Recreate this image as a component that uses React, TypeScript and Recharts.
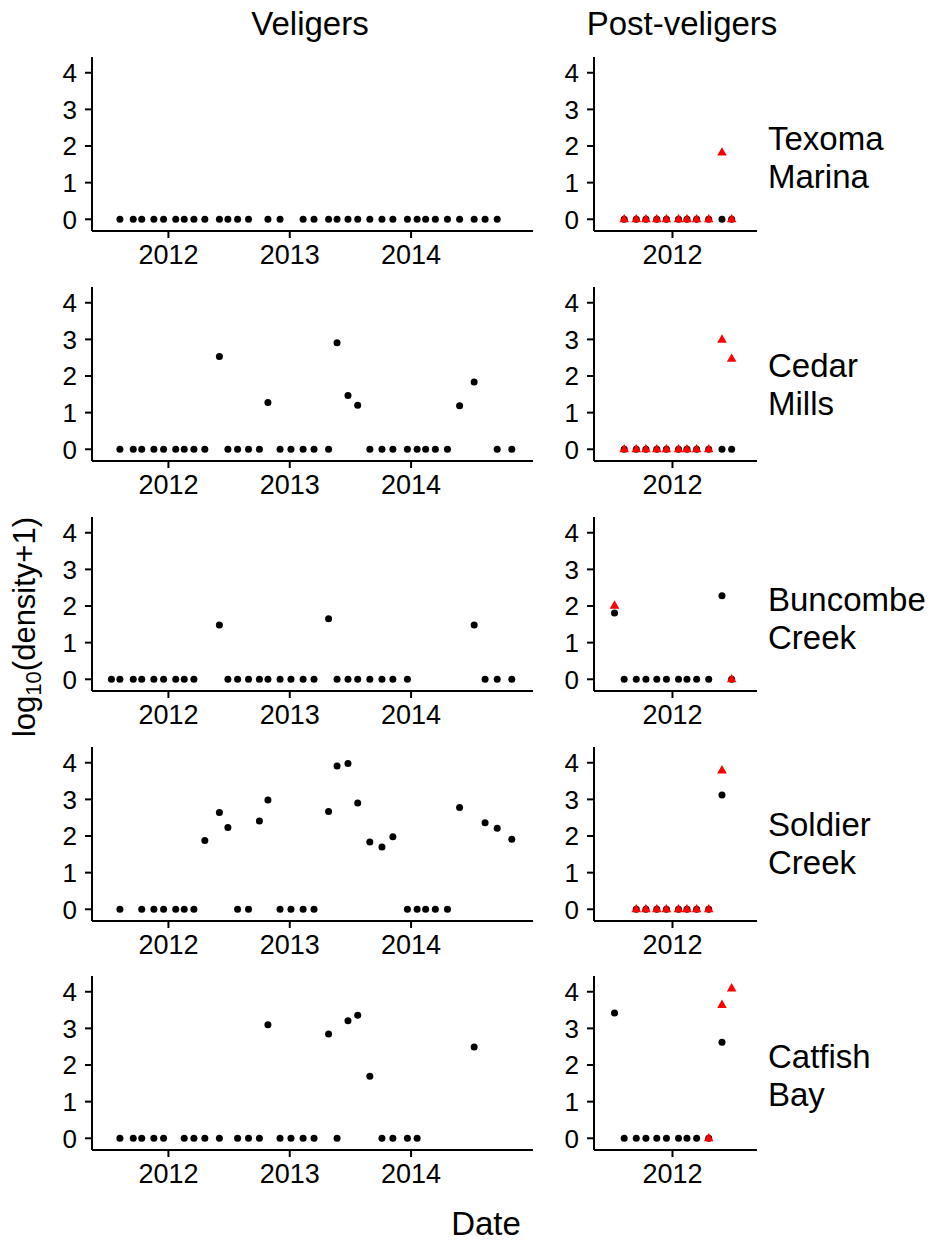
import React from "react";
import { Scatter, ScatterChart, XAxis, YAxis } from "recharts";

const FONT = "'Liberation Sans', Arial, Helvetica, sans-serif";

// panel rows (sites) and columns (life stage)
const stages = ["Veligers", "Post-veligers"];
const siteLabels = [
  ["Texoma", "Marina"],
  ["Cedar", "Mills"],
  ["Buncombe", "Creek"],
  ["Soldier", "Creek"],
  ["Catfish", "Bay"],
];

const yTicks = [0, 1, 2, 3, 4];
const velTicks = [2012, 2013, 2014];
const postTicks = [2012];

// ---- Veligers (decimal year, log10(density+1)) ----
const texomaVelDates = [2011.6, 2011.71, 2011.78, 2011.88, 2011.96, 2012.06, 2012.13, 2012.21, 2012.3, 2012.42, 2012.49, 2012.57, 2012.66, 2012.82, 2012.92, 2013.11, 2013.2, 2013.32, 2013.39, 2013.48, 2013.56, 2013.66, 2013.76, 2013.85, 2013.97, 2014.05, 2014.12, 2014.2, 2014.3, 2014.4, 2014.52, 2014.61, 2014.71];
const texomaVel = [0, 0, 0, 0, 0, 0, 0, 0, 0, 0, 0, 0, 0, 0, 0, 0, 0, 0, 0, 0, 0, 0, 0, 0, 0, 0, 0, 0, 0, 0, 0, 0, 0];

const cedarVelDates = [2011.6, 2011.71, 2011.78, 2011.88, 2011.96, 2012.06, 2012.13, 2012.21, 2012.3, 2012.42, 2012.49, 2012.57, 2012.66, 2012.75, 2012.82, 2012.92, 2013.01, 2013.11, 2013.2, 2013.32, 2013.39, 2013.48, 2013.56, 2013.66, 2013.76, 2013.85, 2013.97, 2014.05, 2014.12, 2014.2, 2014.3, 2014.4, 2014.52, 2014.71, 2014.83];
const cedarVel = [0, 0, 0, 0, 0, 0, 0, 0, 0, 2.53, 0, 0, 0, 0, 1.28, 0, 0, 0, 0, 0, 2.91, 1.47, 1.2, 0, 0, 0, 0, 0, 0, 0, 0, 1.19, 1.84, 0, 0];

const buncombeVelDates = [2011.53, 2011.6, 2011.71, 2011.78, 2011.88, 2011.96, 2012.06, 2012.13, 2012.21, 2012.42, 2012.49, 2012.57, 2012.66, 2012.75, 2012.82, 2012.92, 2013.01, 2013.11, 2013.2, 2013.32, 2013.39, 2013.48, 2013.56, 2013.66, 2013.76, 2013.85, 2013.97, 2014.52, 2014.61, 2014.71, 2014.83];
const buncombeVel = [0, 0, 0, 0, 0, 0, 0, 0, 0, 1.48, 0, 0, 0, 0, 0, 0, 0, 0, 0, 1.65, 0, 0, 0, 0, 0, 0, 0, 1.48, 0, 0, 0];

const soldierVelDates = [2011.6, 2011.78, 2011.88, 2011.96, 2012.06, 2012.13, 2012.21, 2012.3, 2012.42, 2012.49, 2012.57, 2012.66, 2012.75, 2012.82, 2012.92, 2013.01, 2013.11, 2013.2, 2013.32, 2013.39, 2013.48, 2013.56, 2013.66, 2013.76, 2013.85, 2013.97, 2014.05, 2014.12, 2014.2, 2014.3, 2014.4, 2014.61, 2014.71, 2014.83];
const soldierVel = [0, 0, 0, 0, 0, 0, 0, 1.88, 2.64, 2.23, 0, 0, 2.41, 2.98, 0, 0, 0, 0, 2.67, 3.91, 3.98, 2.9, 1.84, 1.7, 1.98, 0, 0, 0, 0, 0, 2.78, 2.36, 2.21, 1.91];

const catfishVelDates = [2011.6, 2011.71, 2011.78, 2011.88, 2011.96, 2012.13, 2012.21, 2012.3, 2012.42, 2012.57, 2012.66, 2012.75, 2012.82, 2012.92, 2013.01, 2013.11, 2013.2, 2013.32, 2013.39, 2013.48, 2013.56, 2013.66, 2013.76, 2013.85, 2013.97, 2014.05, 2014.52];
const catfishVel = [0, 0, 0, 0, 0, 0, 0, 0, 0, 0, 0, 0, 3.1, 0, 0, 0, 0, 2.85, 0, 3.21, 3.36, 1.69, 0, 0, 0, 0, 2.49];

// ---- Post-veligers: black circles and red triangles ----
const texomaPostDates = [2011.6, 2011.7, 2011.78, 2011.87, 2011.95, 2012.05, 2012.12, 2012.2, 2012.3, 2012.41, 2012.49];
const texomaPostCircle = [0, 0, 0, 0, 0, 0, 0, 0, 0, 0, 0];
const texomaPostTri = [0, 0, 0, 0, 0, 0, 0, 0, 0, 1.82, 0];

const cedarPostDates = [2011.6, 2011.7, 2011.78, 2011.87, 2011.95, 2012.05, 2012.12, 2012.2, 2012.3, 2012.41, 2012.49];
const cedarPostCircle = [0, 0, 0, 0, 0, 0, 0, 0, 0, 0, 0];
const cedarPostTri = [0, 0, 0, 0, 0, 0, 0, 0, 0, 2.99, 2.47];

const buncombePostCircleDates = [2011.52, 2011.6, 2011.7, 2011.78, 2011.87, 2011.95, 2012.05, 2012.12, 2012.2, 2012.3, 2012.41, 2012.49];
const buncombePostCircle = [1.81, 0, 0, 0, 0, 0, 0, 0, 0, 0, 2.28, 0];
const buncombePostTriDates = [2011.52, 2012.49];
const buncombePostTri = [2.01, 0];

const soldierPostDates = [2011.7, 2011.78, 2011.87, 2011.95, 2012.05, 2012.12, 2012.2, 2012.3, 2012.41];
const soldierPostCircle = [0, 0, 0, 0, 0, 0, 0, 0, 3.12];
const soldierPostTri = [0, 0, 0, 0, 0, 0, 0, 0, 3.79];

const catfishPostCircleDates = [2011.52, 2011.6, 2011.7, 2011.78, 2011.87, 2011.95, 2012.05, 2012.12, 2012.2, 2012.3, 2012.41];
const catfishPostCircle = [3.42, 0, 0, 0, 0, 0, 0, 0, 0, 0, 2.62];
const catfishPostTriDates = [2012.3, 2012.41, 2012.49];
const catfishPostTri = [0, 3.64, 4.09];

const pts = (dates: number[], vals: number[]) => dates.map((d, i) => ({ date: d, value: vals[i] }));

const veligerRows = [
  pts(texomaVelDates, texomaVel),
  pts(cedarVelDates, cedarVel),
  pts(buncombeVelDates, buncombeVel),
  pts(soldierVelDates, soldierVel),
  pts(catfishVelDates, catfishVel),
];
const postRows = [
  { circles: pts(texomaPostDates, texomaPostCircle), tris: pts(texomaPostDates, texomaPostTri) },
  { circles: pts(cedarPostDates, cedarPostCircle), tris: pts(cedarPostDates, cedarPostTri) },
  { circles: pts(buncombePostCircleDates, buncombePostCircle), tris: pts(buncombePostTriDates, buncombePostTri) },
  { circles: pts(soldierPostDates, soldierPostCircle), tris: pts(soldierPostDates, soldierPostTri) },
  { circles: pts(catfishPostCircleDates, catfishPostCircle), tris: pts(catfishPostTriDates, catfishPostTri) },
];

const chartTops = [47, 277, 507, 737, 966];
const labelBaselines = [150, 377, 611, 836, 1068];

const Dot = (p: any) => <circle cx={p.cx} cy={p.cy} r={3.5} fill="#000" />;
const Tri = (p: any) => (
  <polygon points={`${p.cx},${p.cy - 5.4} ${p.cx + 4.8},${p.cy + 3} ${p.cx - 4.8},${p.cy + 3}`} fill="#ff0000" />
);

const axisStyle = { stroke: "#000", strokeWidth: 2 };

function Panel({ left, top, width, axisW, right, xDomain, xTicks, circles, tris }: any) {
  return (
    <div style={{ position: "absolute", left, top }}>
      <ScatterChart width={width} height={234} margin={{ top: 10, right, bottom: 0, left: 0 }}>
        <XAxis
          type="number"
          dataKey="date"
          domain={xDomain}
          ticks={xTicks}
          allowDataOverflow
          interval={0}
          height={50}
          axisLine={axisStyle}
          tickLine={axisStyle}
          tickSize={7}
          tickMargin={7}
          tick={{ fill: "#000", fontSize: 27, fontFamily: FONT }}
        />
        <YAxis
          type="number"
          dataKey="value"
          domain={[-0.32, 4.43]}
          ticks={yTicks}
          allowDataOverflow
          interval={0}
          width={axisW}
          axisLine={axisStyle}
          tickLine={axisStyle}
          tickSize={7}
          tickMargin={8}
          tick={{ fill: "#000", fontSize: 26, fontFamily: FONT }}
        />
        <Scatter data={circles} shape={Dot} isAnimationActive={false} />
        {tris && <Scatter data={tris} shape={Tri} isAnimationActive={false} />}
      </ScatterChart>
    </div>
  );
}

export default function App() {
  return (
    <div style={{ position: "absolute", left: 0, top: 0, width: 936, height: 1243, background: "#fff", fontFamily: FONT }}>
      {veligerRows.map((rows, i) => (
        <Panel
          key={"v" + i}
          left={0}
          top={chartTops[i]}
          width={545}
          axisW={92}
          right={12}
          xDomain={[2011.37, 2015.005]}
          xTicks={velTicks}
          circles={rows}
        />
      ))}
      {postRows.map((r, i) => (
        <Panel
          key={"p" + i}
          left={545}
          top={chartTops[i]}
          width={222}
          axisW={49}
          right={10}
          xDomain={[2011.35, 2012.7]}
          xTicks={postTicks}
          circles={r.circles}
          tris={r.tris}
        />
      ))}
      <svg width={936} height={1243} style={{ position: "absolute", left: 0, top: 0, pointerEvents: "none" }}>
        <g fontFamily={FONT} fill="#000" fontSize={33}>
          <text x={310} y={35} textAnchor="middle">{stages[0]}</text>
          <text x={682} y={35} textAnchor="middle">{stages[1]}</text>
          {siteLabels.map((lines, i) => (
            <text key={i} x={768} y={labelBaselines[i]}>
              <tspan x={768}>{lines[0]}</tspan>
              <tspan x={768} dy={38}>{lines[1]}</tspan>
            </text>
          ))}
          <text x={486} y={1235} textAnchor="middle">Date</text>
          <text x={35} y={627} textAnchor="middle" fontSize={31} transform="rotate(-90, 35, 627)">
            <tspan>log</tspan>
            <tspan fontSize={22} dy={6}>10</tspan>
            <tspan dy={-6}>(density+1)</tspan>
          </text>
        </g>
      </svg>
    </div>
  );
}
